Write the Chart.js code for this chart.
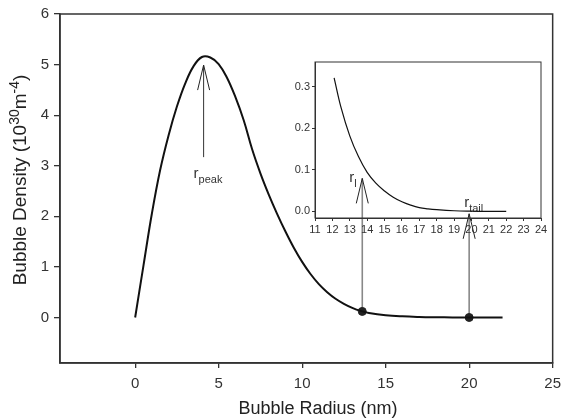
<!DOCTYPE html>
<html>
<head>
<meta charset="utf-8">
<script src="https://cdn.jsdelivr.net/npm/chart.js@4.4.0/dist/chart.umd.min.js"></script>
<style>
body { margin: 0; background: #fff; }
#wrap { position: relative; width: 568px; height: 420px; }
canvas { position: absolute; left: 0; top: 0; }
</style>
</head>
<body>
<div id="wrap">
<canvas id="mainChart" width="568" height="420"></canvas>
<canvas id="insetChart" width="568" height="420"></canvas>
</div>
<script>
// main curve, bubble radius (nm) vs density (10^30 m^-4)
var radius  = [0, 0.5, 1.0, 1.5, 2.0, 2.5, 3.0, 3.5, 4.0, 4.5, 5.0, 5.5, 6.0, 6.5, 7.0, 7.5, 8.0, 8.5, 9.0, 9.5, 10, 10.5, 11, 11.5, 12, 12.5, 13, 13.5, 14, 15, 16, 17, 18, 19, 20, 21, 22];
var density = [0, 1.03, 2.05, 2.92, 3.60, 4.17, 4.63, 4.97, 5.15, 5.14, 5.01, 4.74, 4.36, 3.90, 3.33, 2.85, 2.43, 2.05, 1.70, 1.38, 1.10, 0.86, 0.66, 0.50, 0.37, 0.27, 0.19, 0.13, 0.09, 0.045, 0.022, 0.01, 0.004, 0.001, 0, 0, 0];
var markX = [13.6, 20];
var markY = [0.12, 0.0];
var xTicks = [0, 5, 10, 15, 20, 25];
var yTicks = [0, 1, 2, 3, 4, 5, 6];

// inset (tail of the distribution)
var insetRadius  = [12.1, 12.5, 13, 13.5, 14, 14.5, 15, 15.5, 16, 16.5, 17, 17.5, 18, 19, 20, 21, 22];
var insetDensity = [0.322, 0.25, 0.182, 0.132, 0.094, 0.068, 0.049, 0.034, 0.023, 0.015, 0.009, 0.006, 0.004, 0.0015, 0.0005, 0, 0];
var insetXTicks = [11, 12, 13, 14, 15, 16, 17, 18, 19, 20, 21, 22, 23, 24];
var insetYTicks = [0, 0.1, 0.2, 0.3];

// arrows (main axis units) and their labels
var arrowX    = [4.1, 13.6, 20];
var arrowFrom = [3.17, 0.12, 0.0];
var arrowTo   = [4.99, 2.75, 2.05];
var labelMain = ['r', 'r', 'r'];
var labelSub  = ['peak', 'l', 'tail'];
var labelX    = [3.5, 12.82, 19.7];
var labelY    = [2.75, 2.68, 2.18];

var font = "'Liberation Sans', Arial, sans-serif";
Chart.defaults.font.family = font;
Chart.defaults.color = '#222';

function toPoints(xs, ys) {
    return xs.map(function (v, i) { return { x: v, y: ys[i] }; });
}

var frame = {
    id: 'frame',
    afterDatasetsDraw: function (chart, args, opts) {
        var a = chart.chartArea, ctx = chart.ctx;
        ctx.save();
        ctx.strokeStyle = '#333';
        ctx.lineWidth = opts.width || 1;
        ctx.strokeRect(a.left, a.top, a.right - a.left, a.bottom - a.top);
        ctx.restore();
    }
};

var annotations = {
    id: 'annotations',
    beforeDatasetsDraw: function (chart) {
        var xs = chart.scales.x, ys = chart.scales.y, ctx = chart.ctx;
        ctx.save();
        for (var i = 0; i < arrowX.length; i++) {
            var px = xs.getPixelForValue(arrowX[i]);
            var y0 = ys.getPixelForValue(arrowFrom[i]);
            var y1 = ys.getPixelForValue(arrowTo[i]);
            ctx.beginPath();
            ctx.strokeStyle = i == 0 ? '#333' : '#888';
            ctx.lineWidth = i == 0 ? 1 : 1.6;
            ctx.moveTo(px, y0);
            ctx.lineTo(px, y1);
            ctx.stroke();
            ctx.beginPath();
            ctx.strokeStyle = '#222';
            ctx.lineWidth = 1;
            ctx.moveTo(px - 6, y1 + 25);
            ctx.lineTo(px, y1);
            ctx.lineTo(px + 6, y1 + 25);
            ctx.stroke();
        }
        ctx.fillStyle = '#333';
        ctx.textBaseline = 'alphabetic';
        for (var j = 0; j < labelMain.length; j++) {
            var lx = xs.getPixelForValue(labelX[j]);
            var ly = ys.getPixelForValue(labelY[j]);
            ctx.font = '15px ' + font;
            ctx.fillText(labelMain[j], lx, ly);
            var w = ctx.measureText(labelMain[j]).width;
            ctx.font = '11px ' + font;
            ctx.fillText(labelSub[j], lx + w, ly + 5);
        }
        ctx.restore();
    },
    afterDraw: function (chart) {
        var ctx = chart.ctx;
        ctx.save();
        ctx.fillStyle = '#222';
        // x title
        ctx.font = '18px ' + font;
        ctx.textAlign = 'center';
        ctx.fillText('Bubble Radius (nm)', 318, 414);
        // y title with superscripts
        var parts = [['Bubble Density (10', 19, 0], ['30', 14, -7], ['m', 19, 0], ['-4', 14, -7], [')', 19, 0]];
        var total = 0;
        ctx.textAlign = 'left';
        parts.forEach(function (p) { ctx.font = p[1] + 'px ' + font; p.push(ctx.measureText(p[0]).width); total += p[3]; });
        ctx.translate(26, 180);
        ctx.rotate(-Math.PI / 2);
        var x = -total / 2;
        parts.forEach(function (p) {
            ctx.font = p[1] + 'px ' + font;
            ctx.fillText(p[0], x, p[2]);
            x += p[3];
        });
        ctx.restore();
    }
};

new Chart('mainChart', {
    type: 'scatter',
    data: {
        datasets: [{
            data: toPoints(radius, density),
            showLine: true,
            borderColor: '#111',
            borderWidth: 2,
            pointRadius: 0,
            tension: 0.4
        }, {
            data: toPoints(markX, markY),
            showLine: false,
            pointRadius: 4,
            backgroundColor: '#222',
            borderColor: '#222'
        }]
    },
    options: {
        responsive: false,
        animation: false,
        layout: { padding: { left: 0, top: 14, right: 10, bottom: 0 } },
        plugins: { legend: { display: false }, tooltip: { enabled: false }, frame: { width: 1.5 } },
        scales: {
            x: {
                type: 'linear', min: -4.5, max: 25,
                afterBuildTicks: function (s) { s.ticks = xTicks.map(function (v) { return { value: v }; }); },
                afterFit: function (s) { s.height = 57; },
                grid: { drawOnChartArea: false, tickLength: 5, color: '#333', lineWidth: 1.3 },
                border: { color: '#333', width: 1.5 },
                ticks: { font: { size: 15 }, color: '#333', padding: 7, maxRotation: 0 }
            },
            y: {
                type: 'linear', min: -0.9, max: 6,
                afterBuildTicks: function (s) { s.ticks = yTicks.map(function (v) { return { value: v }; }); },
                afterFit: function (s) { s.width = 60; },
                grid: { drawOnChartArea: false, tickLength: 6, color: '#333', lineWidth: 1.3 },
                border: { color: '#333', width: 1.5 },
                ticks: { font: { size: 15 }, color: '#333', padding: 5 }
            }
        }
    },
    plugins: [annotations, frame]
});

new Chart('insetChart', {
    type: 'scatter',
    data: {
        datasets: [{
            data: toPoints(insetRadius, insetDensity),
            showLine: true,
            borderColor: '#111',
            borderWidth: 1.2,
            pointRadius: 0,
            tension: 0.4
        }]
    },
    options: {
        responsive: false,
        animation: false,
        layout: { padding: { left: 285, top: 62, right: 27, bottom: 182 } },
        plugins: { legend: { display: false }, tooltip: { enabled: false }, frame: { width: 1 } },
        scales: {
            x: {
                type: 'linear', min: 11, max: 24,
                afterBuildTicks: function (s) { s.ticks = insetXTicks.map(function (v) { return { value: v }; }); },
                afterFit: function (s) { s.height = 20; },
                grid: { drawOnChartArea: false, tickLength: 3, color: '#333' },
                border: { color: '#333', width: 1 },
                ticks: { font: { size: 11 }, color: '#333', padding: 2, maxRotation: 0, autoSkip: false }
            },
            y: {
                type: 'linear', min: -0.016, max: 0.36,
                afterBuildTicks: function (s) { s.ticks = insetYTicks.map(function (v) { return { value: v }; }); },
                afterFit: function (s) { s.width = 30; },
                grid: { drawOnChartArea: false, tickLength: 3, color: '#333' },
                border: { color: '#333', width: 1 },
                ticks: { font: { size: 11 }, color: '#333', padding: 2, callback: function (v) { return v.toFixed(1); } }
            }
        }
    },
    plugins: [frame]
});
</script>
</body>
</html>
